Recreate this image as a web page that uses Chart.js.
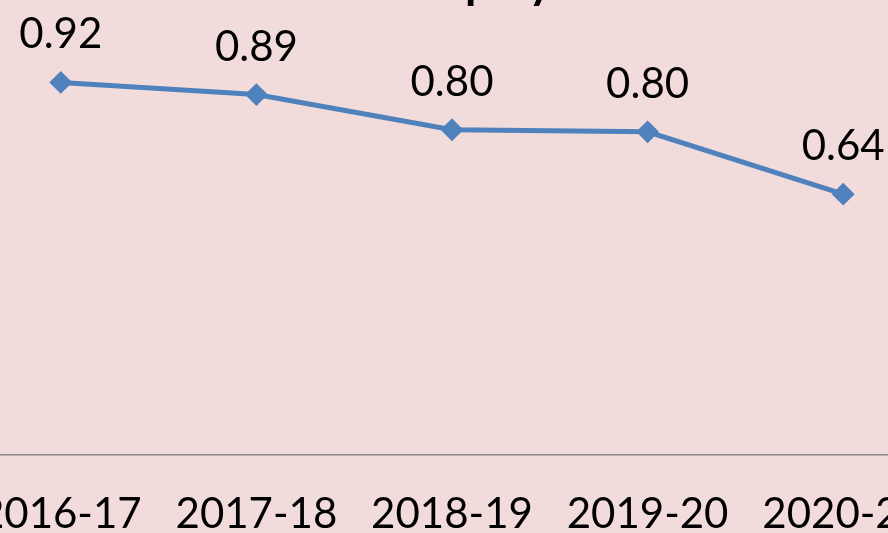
<!DOCTYPE html>
<html>
<head>
<meta charset="utf-8">
<script src="https://cdn.jsdelivr.net/npm/chart.js@4/dist/chart.umd.min.js"></script>
<style>
  html, body { margin: 0; padding: 0; width: 888px; height: 533px; overflow: hidden; background: #f2dcdb; }
  #wrap { position: absolute; left: -37px; top: 0; }
</style>
</head>
<body>
<div id="wrap"><canvas id="c" width="978" height="535"></canvas></div>
<script>
const years = ['2016-17', '2017-18', '2018-19', '2019-20', '2020-21'];
const values = [0.92, 0.89, 0.803, 0.798, 0.644];
const titleText = 'Employment';

const BLUE = '#4f81bd';
const FONT = 'Lato, "Open Sans", sans-serif';

// labels above each point, like Excel data labels
const pointLabels = {
  id: 'pointLabels',
  afterDatasetsDraw(chart) {
    const ctx = chart.ctx;
    const meta = chart.getDatasetMeta(0);
    ctx.save();
    ctx.font = '42px ' + FONT;
    ctx.fillStyle = '#000';
    ctx.textAlign = 'center';
    ctx.textBaseline = 'alphabetic';
    meta.data.forEach((pt, i) => {
      ctx.fillText(values[i].toFixed(2), pt.x, pt.y - 34);
    });
    ctx.restore();
  },
};

// title sits mostly above the visible crop; only descenders show
const cropTitle = {
  id: 'cropTitle',
  afterDraw(chart) {
    const ctx = chart.ctx;
    ctx.save();
    ctx.font = 'bold 46px ' + FONT;
    ctx.fillStyle = '#000';
    ctx.textBaseline = 'alphabetic';
    const lead = ctx.measureText('Em').width;
    ctx.fillText(titleText, 468 + 37 - lead - 3, -2);
    ctx.restore();
  },
};

new Chart(document.getElementById('c'), {
  type: 'line',
  data: {
    labels: years,
    datasets: [{
      data: values,
      borderColor: BLUE,
      backgroundColor: BLUE,
      borderWidth: 5,
      pointStyle: 'rectRot',
      pointRadius: 10,
      pointBorderWidth: 2,
      tension: 0,
      clip: false,
    }],
  },
  options: {
    responsive: false,
    animation: false,
    layout: { autoPadding: false, padding: { top: 50, left: 0, right: 0, bottom: 0 } },
    plugins: { legend: { display: false }, title: { display: false }, tooltip: { enabled: false } },
    scales: {
      x: {
        offset: true,
        grid: { display: false, drawTicks: false },
        border: { display: true, color: '#8a8a8a', width: 1.5 },
        ticks: { color: '#000', padding: 34, font: { family: FONT, size: 42 } },
        afterFit(scale) {
          scale.height = 80;
          scale.paddingLeft = 0;
          scale.paddingRight = 0;
        },
      },
      y: { display: false, min: 0, max: 1 },
    },
  },
  plugins: [pointLabels, cropTitle],
});
</script>
</body>
</html>
